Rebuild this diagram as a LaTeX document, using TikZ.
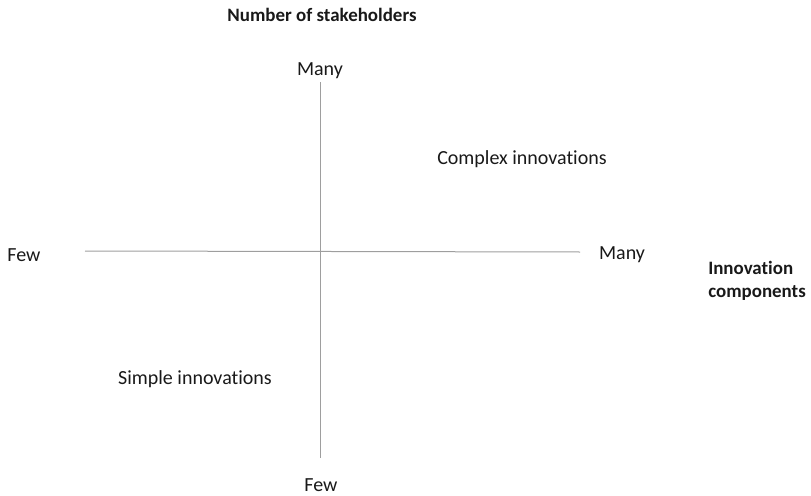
\documentclass[tikz,border=0pt]{standalone}
\usepackage{fontspec}
\setmainfont[Ligatures=NoCommon]{Carlito}
\begin{document}
\begin{tikzpicture}[x=0.75pt,y=-0.75pt,
  lbl/.style={font=\fontsize{15}{17}\selectfont, inner sep=0pt, text=black!90},
  blbl/.style={lbl, font=\fontsize{14.2}{17}\selectfont\bfseries},
  axis/.style={draw=black!38, line width=0.75pt}]
\useasboundingbox (0,0) rectangle (811,496);
\coordinate (vt) at (320,82);
\coordinate (vb) at (320,458);
\coordinate (hl) at (85,251);
\coordinate (hr) at (580,252);
\draw[axis] (vt) -- (vb);
\draw[axis] (hl) -- (hr);
\node[blbl] (title) at (322,15) {Number of stakeholders};
\node[lbl] (ymany) at (320,71) {Many};
\node[lbl] (yfew) at (321,485) {Few};
\node[lbl] (xfew) at (24,255) {Few};
\node[lbl] (xmany) at (622,255) {Many};
\node[blbl, align=left, anchor=west] (xtitle) at (708,281) {Innovation\\components};
\node[lbl] (complex) at (522,159) {Complex innovations};
\node[lbl] (simple) at (195,379) {Simple innovations};
\end{tikzpicture}
\end{document}
